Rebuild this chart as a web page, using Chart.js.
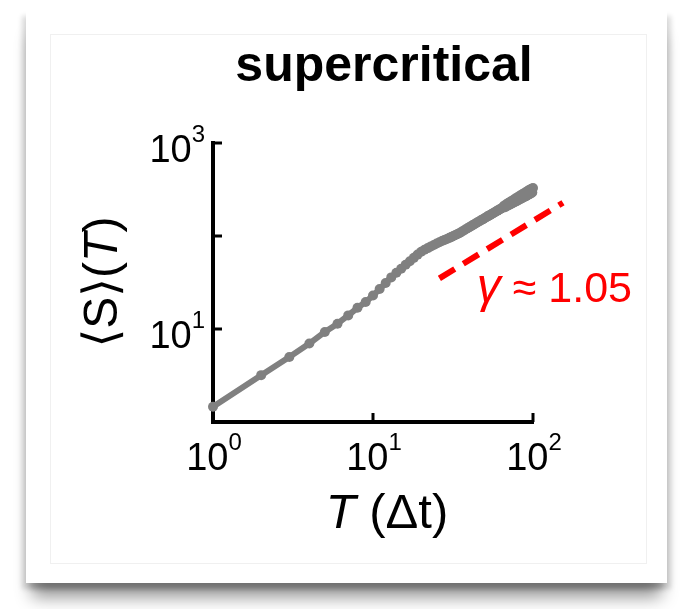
<!DOCTYPE html>
<html>
<head>
<meta charset="utf-8">
<script src="https://cdn.jsdelivr.net/npm/chart.js@4.4.1/dist/chart.umd.min.js"></script>
<style>
  html, body { margin: 0; padding: 0; background: #fff; }
  body { width: 682px; height: 609px; position: relative; overflow: hidden; }
  .card {
    position: absolute; left: 26px; top: 10px; width: 641px; height: 573px; background: #fff;
    box-shadow: 0 20px 16px -6px rgba(0,0,0,0.42), -4px 6px 5px rgba(0,0,0,0.14), 4px 6px 5px rgba(0,0,0,0.14);
  }
  .frame { position: absolute; left: 50px; top: 34px; width: 595px; height: 528px; border: 1px solid #f0f0f0; }
  #plot { position: absolute; left: 0; top: 0; }
</style>
</head>
<body>
<div class="card"></div>
<div class="frame"></div>
<canvas id="plot" width="682" height="609"></canvas>
<script>
// window length T (in units of Δt)
const T = [
  1, 2, 3, 4, 5, 6, 7, 8, 9, 10, 11, 12, 13, 14, 15, 16, 17, 18, 19, 20,
  21, 22, 23, 24, 25, 26, 27, 28, 29, 30, 31, 32, 33, 34, 35, 36, 37, 38, 39, 40,
  41, 42, 43, 44, 45, 46, 47, 48, 49, 50, 51, 52, 53, 54, 55, 56, 57, 58, 59, 60,
  61, 62, 63, 64, 65, 66, 67, 68, 69, 70, 71, 72, 73, 74, 75, 76, 77, 78, 79, 80,
  81, 82, 83, 84, 85, 86, 87, 88, 89, 90, 91, 92, 93, 94, 95, 96, 97, 98, 99, 100
];

// mean avalanche size <S>(T)
const meanS = [
  1.46, 3.19, 5.0, 6.97, 9.3, 11.4, 14.0, 16.9, 19.5, 22.9,
  26.9, 31.3, 35.9, 40.3, 44.5, 49.0, 53.5, 58.2, 63.1, 67.6,
  71.1, 74.1, 77.3, 80.2, 83.0, 85.7, 88.3, 90.8, 93.1, 95.5,
  97.9, 100.5, 103.0, 105.7, 108.6, 111.7, 114.8, 118.0, 121.1, 124.5,
  127.6, 130.9, 134.0, 137.1, 140.3, 143.5, 146.6, 149.6, 152.8, 156.0,
  159.2, 162.6, 165.6, 168.7, 171.8, 175.0, 178.2, 181.1, 184.5, 187.5,
  190.5, 193.6, 196.8, 200.0, 203.2, 212, 204, 219, 210, 226,
  215, 233, 221, 240, 226, 247, 232, 254, 237, 261,
  243, 268, 248, 275, 253, 282, 259, 289, 265, 296,
  270, 303, 276, 310, 281, 316, 287, 322, 293, 328
];

// reference power law, slope gamma ~ 1.05
const guideT = [26, 154];
const guideS = [35, 228];
const gammaText = '1.05';

// axis ticks (decade exponents)
const xTickVals = [1, 10, 100];
const xTickExp = ['0', '1', '2'];
const yTickVals = [10, 100, 1000];
const yTickExp = ['1', '', '3'];

const FONT = "'Liberation Sans', Arial, 'DejaVu Sans', sans-serif";

function drawPieces(ctx, pieces, x, y, align) {
  // pieces: [text, font]; the whole run is aligned as one string
  let total = 0;
  const widths = pieces.map(([txt, font]) => { ctx.font = font; const w = ctx.measureText(txt).width; total += w; return w; });
  let cx = align === 'center' ? x - total / 2 : align === 'right' ? x - total : x;
  ctx.textAlign = 'left';
  pieces.forEach(([txt, font], i) => { ctx.font = font; ctx.fillText(txt, cx, y); cx += widths[i]; });
}

function powerLabel(ctx, exp, x, y, align) {
  // "10" with a raised exponent
  const base = `38px ${FONT}`, sup = `24px ${FONT}`;
  ctx.font = base; const wb = ctx.measureText('10').width;
  ctx.font = sup; const we = ctx.measureText(exp).width;
  const total = wb + we;
  const x0 = align === 'center' ? x - total / 2 : x - total;
  ctx.textAlign = 'left';
  ctx.font = base; ctx.fillText('10', x0, y);
  ctx.font = sup; ctx.fillText(exp, x0 + wb, y - 20);
}

const axisDecor = {
  id: 'axisDecor',
  beforeDatasetsDraw(chart) {
    const { ctx, scales: { x, y }, chartArea } = chart;
    ctx.save();
    ctx.strokeStyle = '#000';
    ctx.lineWidth = 3;
    // inward tick marks
    xTickVals.forEach(v => {
      const px = x.getPixelForValue(v);
      ctx.beginPath(); ctx.moveTo(px, chartArea.bottom); ctx.lineTo(px, chartArea.bottom - 9); ctx.stroke();
    });
    yTickVals.forEach(v => {
      const py = y.getPixelForValue(v);
      ctx.beginPath(); ctx.moveTo(chartArea.left, py); ctx.lineTo(chartArea.left + 9, py); ctx.stroke();
    });
    ctx.restore();
  },
  afterDraw(chart) {
    const { ctx, scales: { x, y }, chartArea } = chart;
    ctx.save();
    ctx.fillStyle = '#000';
    ctx.textBaseline = 'alphabetic';

    xTickVals.forEach((v, i) => powerLabel(ctx, xTickExp[i], x.getPixelForValue(v) + 1, chartArea.bottom + 48, 'center'));
    yTickVals.forEach((v, i) => {
      if (yTickExp[i]) powerLabel(ctx, yTickExp[i], chartArea.left - 8, y.getPixelForValue(v) + 19, 'right');
    });

    // title
    ctx.font = `bold 50px ${FONT}`;
    ctx.textAlign = 'center';
    ctx.fillText('supercritical', 384, 81);

    // x axis label
    drawPieces(ctx, [['T', `italic 49px ${FONT}`], [' (Δt)', `49px ${FONT}`]], 387, 528, 'center');

    // y axis label
    ctx.save();
    ctx.translate(117, 282);
    ctx.rotate(-Math.PI / 2);
    drawPieces(ctx, [['⟨S⟩(', `48px ${FONT}`], ['T', `italic 48px ${FONT}`], [')', `48px ${FONT}`]], 0, 0, 'center');
    ctx.restore();

    // slope annotation
    ctx.fillStyle = '#ff0000';
    drawPieces(ctx, [['γ', `italic 48px ${FONT}`], [' ≈ ' + gammaText, `43px ${FONT}`]], 632, 302, 'right');
    ctx.restore();
  }
};

new Chart(document.getElementById('plot'), {
  type: 'line',
  data: {
    datasets: [
      {
        data: guideT.map((t, i) => ({ x: t, y: guideS[i] })),
        borderColor: '#ff0000',
        borderWidth: 6,
        borderDash: [18, 10],
        pointRadius: 0,
        clip: false,
        order: 2
      },
      {
        data: T.map((t, i) => ({ x: t, y: meanS[i] })),
        borderColor: '#808080',
        backgroundColor: '#808080',
        borderWidth: 6,
        borderJoinStyle: 'round',
        borderCapStyle: 'round',
        pointRadius: 5,
        pointBorderWidth: 0,
        pointBackgroundColor: '#808080',
        clip: false,
        order: 1
      }
    ]
  },
  options: {
    responsive: false,
    animation: false,
    layout: { padding: { left: 213, right: 149, top: 143, bottom: 187 } },
    plugins: { legend: { display: false }, tooltip: { enabled: false } },
    scales: {
      x: {
        type: 'logarithmic', min: 1, max: 100,
        grid: { display: false }, ticks: { display: false },
        border: { display: true, color: '#000', width: 4 },
        afterFit: s => { s.height = 0; }
      },
      y: {
        type: 'logarithmic', min: 1, max: 1000,
        grid: { display: false }, ticks: { display: false },
        border: { display: true, color: '#000', width: 4 },
        afterFit: s => { s.width = 0; }
      }
    }
  },
  plugins: [axisDecor]
});
</script>
</body>
</html>
